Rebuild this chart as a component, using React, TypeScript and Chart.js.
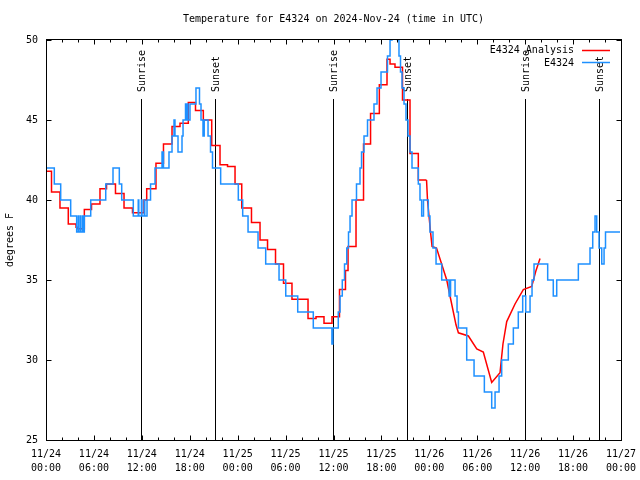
import React, { useEffect, useRef } from "react";
import { Chart, registerables } from "chart.js";

Chart.register(...registerables);

// ---------------- data ----------------
const TITLE = "Temperature for E4324 on 2024-Nov-24 (time in UTC)";
const Y_LABEL = "degrees F";
const SERIES_ANALYSIS = "E4324 Analysis";
const SERIES_OBS = "E4324";

// x axis: hours since 11/24 00:00 UTC
const X_MIN = 0;
const X_MAX = 72;
const X_MAJOR_STEP = 6;
const X_MINOR_STEP = 2;
const X_TICK_DATES = ["11/24", "11/24", "11/24", "11/24", "11/25", "11/25", "11/25", "11/25", "11/26", "11/26", "11/26", "11/26", "11/27"];
const X_TICK_TIMES = ["00:00", "06:00", "12:00", "18:00", "00:00", "06:00", "12:00", "18:00", "00:00", "06:00", "12:00", "18:00", "00:00"];

const Y_MIN = 25;
const Y_MAX = 50;
const Y_STEP = 5;

// observed temperature (hour, °F), value holds until next entry
const OBS: [number, number][] = [
  [0, 42], [1.04, 41], [1.84, 40], [3.09, 39], [3.84, 38], [4.05, 39], [4.11, 38], [4.32, 39], [4.38, 38],
  [4.6, 39], [4.66, 38], [4.8, 39], [5.6, 40], [7.48, 41], [8.39, 42], [9.18, 41], [9.48, 40], [10.93, 39],
  [11.55, 40], [11.62, 39], [11.95, 40], [12.02, 39], [12.3, 40], [12.37, 39],
  [12.65, 40], [13.09, 41], [13.65, 42], [14.53, 43], [14.71, 42], [15.4, 43], [15.78, 44], [16.03, 45],
  [16.15, 44], [16.53, 43], [17.03, 44], [17.16, 45], [17.47, 46], [17.57, 45], [17.66, 46], [17.78, 45],
  [18.03, 46], [18.78, 47], [19.22, 46], [19.41, 45], [19.66, 44], [19.81, 45], [20.29, 44], [20.6, 43],
  [20.85, 42], [21.87, 41], [24.08, 40], [24.63, 39], [25.3, 38], [26.55, 37], [27.51, 36], [29.18, 35],
  [30.02, 34], [31.52, 33], [33.47, 32], [35.8, 31], [35.92, 32], [36.6, 33],
  [36.82, 34], [37.1, 35], [37.38, 36], [37.66, 37], [37.88, 38], [38.07, 39], [38.32, 40], [38.88, 41],
  [39.32, 42], [39.51, 43], [39.82, 44], [40.26, 45], [41.07, 46], [41.45, 47], [41.95, 48], [42.76, 49],
  [43.08, 50], [43.33, 51], [44.01, 50], [44.2, 49], [44.39, 48], [44.58, 47], [44.83, 46], [45.08, 45],
  [45.33, 44], [45.58, 43], [45.83, 42], [46.62, 41], [46.83, 40], [47.04, 39], [47.27, 40], [47.87, 39],
  [48.08, 38], [48.46, 37], [48.84, 36], [49.55, 35], [50.47, 34], [50.66, 35], [51.22, 34], [51.47, 33],
  [51.64, 32], [52.68, 30], [53.6, 29], [54.89, 28], [55.81, 27], [56.23, 28], [56.73, 29], [57.06, 30],
  [57.89, 31], [58.52, 32], [59.14, 33], [59.69, 34], [60.07, 33], [60.61, 34], [60.86, 35], [61.11, 36],
  [62.82, 35], [63.52, 34], [63.95, 35], [66.66, 36], [68.12, 37], [68.46, 38], [68.75, 39], [68.96, 38],
  [69.25, 37], [69.59, 36], [69.88, 37], [70.06, 38], [71.88, 38],
];

// hourly analysis (hour, °F), value holds until next entry
const ANALYSIS: [number, number][] = [
  [0, 41.8], [0.69, 40.5], [1.75, 39.5], [2.79, 38.5], [3.76, 38.3], [3.92, 38.2], [4.8, 39.4], [5.7, 39.75],
  [6.76, 40.7], [7.58, 41.0], [8.7, 40.4], [9.77, 39.5], [10.83, 39.2], [12.27, 40.0], [12.61, 40.7],
  [13.77, 42.3], [14.71, 43.5], [15.78, 44.6], [16.78, 44.8], [17.82, 46.1], [18.72, 45.6], [19.7, 45.0],
  [20.75, 43.4], [21.79, 42.2], [22.73, 42.1], [23.67, 41.0], [24.51, 39.5], [25.73, 38.6], [26.8, 37.5],
  [27.74, 36.9], [28.74, 36.0], [29.74, 34.8], [30.8, 33.8], [32.81, 32.6], [33.81, 32.7], [34.81, 32.3],
  [35.81, 32.7], [36.75, 34.4], [37.5, 35.6], [37.82, 37.1], [38.82, 40.0], [39.76, 43.5], [40.64, 45.4],
  [41.74, 47.2], [42.7, 48.8], [43.08, 48.5], [43.7, 48.3], [44.64, 46.25], [45.58, 42.9], [46.62, 41.25],
  [47.65, 41.25],
];

// later analysis, continuous (hour, °F)
const ANALYSIS_CONT: [number, number][] = [
  [47.65, 41.25], [47.77, 40.0], [48.15, 38.0], [48.34, 37.1], [48.9, 37.0], [50.18, 35.0], [50.59, 34.0],
  [51.34, 32.2], [51.64, 31.7], [52.89, 31.5], [53.94, 30.7], [54.76, 30.5], [55.81, 28.6], [56.85, 29.2],
  [57.22, 31.0], [57.69, 32.4], [58.73, 33.5], [59.77, 34.4], [60.82, 34.6], [61.36, 35.6], [61.86, 36.35],
];

const SUN_HOURS = [11.93, 21.2, 35.97, 45.23, 60.0, 69.27];
const SUN_LABELS = ["Sunrise", "Sunset", "Sunrise", "Sunset", "Sunrise", "Sunset"];

// ---------------- styling ----------------
const FONT_FAMILY = "'DejaVu Sans Mono', 'Liberation Mono', monospace";
const FONT = `10px ${FONT_FAMILY}`;
const RED = "#ff0000";
const BLUE = "#1e90ff";

const toXY = (arr: [number, number][]) => arr.map(([x, y]) => ({ x, y }));

const decorPlugin = {
  id: "decor",
  beforeDatasetsDraw(chart: any) {
    const { ctx, chartArea: a, scales } = chart;
    const xs = scales.x;
    ctx.save();
    ctx.strokeStyle = "#000";
    ctx.fillStyle = "#000";
    ctx.lineWidth = 1;
    ctx.font = FONT;
    SUN_HOURS.forEach((h, i) => {
      const px = Math.round(xs.getPixelForValue(h)) + 0.5;
      ctx.beginPath();
      ctx.moveTo(px, a.top + 59);
      ctx.lineTo(px, a.bottom);
      ctx.stroke();
      ctx.save();
      ctx.translate(px + 1, a.top + 52);
      ctx.rotate(-Math.PI / 2);
      ctx.textAlign = "left";
      ctx.textBaseline = "middle";
      ctx.fillText(SUN_LABELS[i], 0, 0);
      ctx.restore();
    });
    ctx.restore();
  },
  afterDraw(chart: any) {
    const { ctx, chartArea: a, scales } = chart;
    const xs = scales.x;
    const ys = scales.y;
    ctx.save();
    ctx.strokeStyle = "#000";
    ctx.fillStyle = "#000";
    ctx.lineWidth = 1;
    const L = Math.round(a.left) + 0.5;
    const R = Math.round(a.right) + 0.5;
    const T = Math.round(a.top) - 0.5;
    const B = Math.round(a.bottom) + 0.5;
    ctx.strokeRect(L, T, R - L, B - T);
    // x ticks (inward, mirrored)
    ctx.beginPath();
    for (let h = X_MIN; h <= X_MAX; h += X_MINOR_STEP) {
      const px = Math.round(xs.getPixelForValue(h)) + 0.5;
      const len = h % X_MAJOR_STEP === 0 ? 5 : 3;
      ctx.moveTo(px, B);
      ctx.lineTo(px, B - len);
      ctx.moveTo(px, T);
      ctx.lineTo(px, T + len);
    }
    for (let v = Y_MIN; v <= Y_MAX; v += Y_STEP) {
      const py = Math.round(ys.getPixelForValue(v)) + 0.5;
      ctx.moveTo(L, py);
      ctx.lineTo(L + 5, py);
      ctx.moveTo(R, py);
      ctx.lineTo(R - 5, py);
    }
    ctx.stroke();
    // title
    ctx.font = FONT;
    ctx.textAlign = "center";
    ctx.textBaseline = "middle";
    ctx.fillText(TITLE, (a.left + a.right) / 2, 19);
    // y label
    ctx.save();
    ctx.translate(10, (a.top + a.bottom) / 2);
    ctx.rotate(-Math.PI / 2);
    ctx.fillText(Y_LABEL, 0, 0);
    ctx.restore();
    // legend
    const entries: [string, string, number][] = [
      [SERIES_ANALYSIS, RED, a.top + 10.5],
      [SERIES_OBS, BLUE, a.top + 23],
    ];
    entries.forEach(([label, color, y]) => {
      ctx.fillStyle = "#000";
      ctx.textAlign = "right";
      ctx.fillText(label, a.right - 47, y);
      ctx.strokeStyle = color;
      ctx.lineWidth = 1.5;
      ctx.beginPath();
      ctx.moveTo(a.right - 39, Math.round(y) - 0.5);
      ctx.lineTo(a.right - 11, Math.round(y) - 0.5);
      ctx.stroke();
    });
    ctx.restore();
  },
};

export default function App() {
  const ref = useRef<HTMLCanvasElement>(null);
  useEffect(() => {
    document.body.style.margin = "0";
    const lineCommon = {
      pointRadius: 0,
      pointHoverRadius: 0,
      borderWidth: 1.5,
      fill: false,
      tension: 0,
      clip: 0,
    };
    const chart = new Chart(ref.current as HTMLCanvasElement, {
      type: "line",
      data: {
        datasets: [
          { ...lineCommon, label: SERIES_OBS, data: toXY(OBS), borderColor: BLUE, stepped: "before" },
          { ...lineCommon, label: SERIES_ANALYSIS, data: toXY(ANALYSIS), borderColor: RED, stepped: "before" },
          { ...lineCommon, label: SERIES_ANALYSIS, data: toXY(ANALYSIS_CONT), borderColor: RED },
        ],
      } as any,
      options: {
        animation: false,
        responsive: false,
        devicePixelRatio: 1,
        layout: { padding: { left: 0, right: 19, top: 40, bottom: 0 } },
        plugins: { legend: { display: false }, title: { display: false }, tooltip: { enabled: false } },
        events: [],
        scales: {
          x: {
            type: "linear",
            min: X_MIN,
            max: X_MAX,
            grid: { display: false, drawTicks: false },
            border: { display: false },
            afterFit: (s: any) => {
              s.height = 40;
              s.paddingLeft = 0;
              s.paddingRight = 0;
            },
            ticks: {
              stepSize: X_MAJOR_STEP,
              autoSkip: false,
              maxRotation: 0,
              padding: 7,
              color: "#000",
              font: { family: FONT_FAMILY, size: 10, lineHeight: 1.4 },
              callback: (v: any) => {
                const i = Math.round((Number(v) - X_MIN) / X_MAJOR_STEP);
                return [X_TICK_DATES[i], X_TICK_TIMES[i]];
              },
            },
          },
          y: {
            type: "linear",
            min: Y_MIN,
            max: Y_MAX,
            grid: { display: false, drawTicks: false },
            border: { display: false },
            afterFit: (s: any) => {
              s.width = 46;
              s.paddingTop = 0;
              s.paddingBottom = 0;
            },
            ticks: {
              stepSize: Y_STEP,
              padding: 8,
              color: "#000",
              font: { family: FONT_FAMILY, size: 10 },
              callback: (v: any) => String(v),
            },
          },
        },
      } as any,
      plugins: [decorPlugin],
    });
    return () => chart.destroy();
  }, []);
  return (
    <div style={{ width: 640, height: 480 }}>
      <canvas ref={ref} width={640} height={480} style={{ display: "block" }} />
    </div>
  );
}
